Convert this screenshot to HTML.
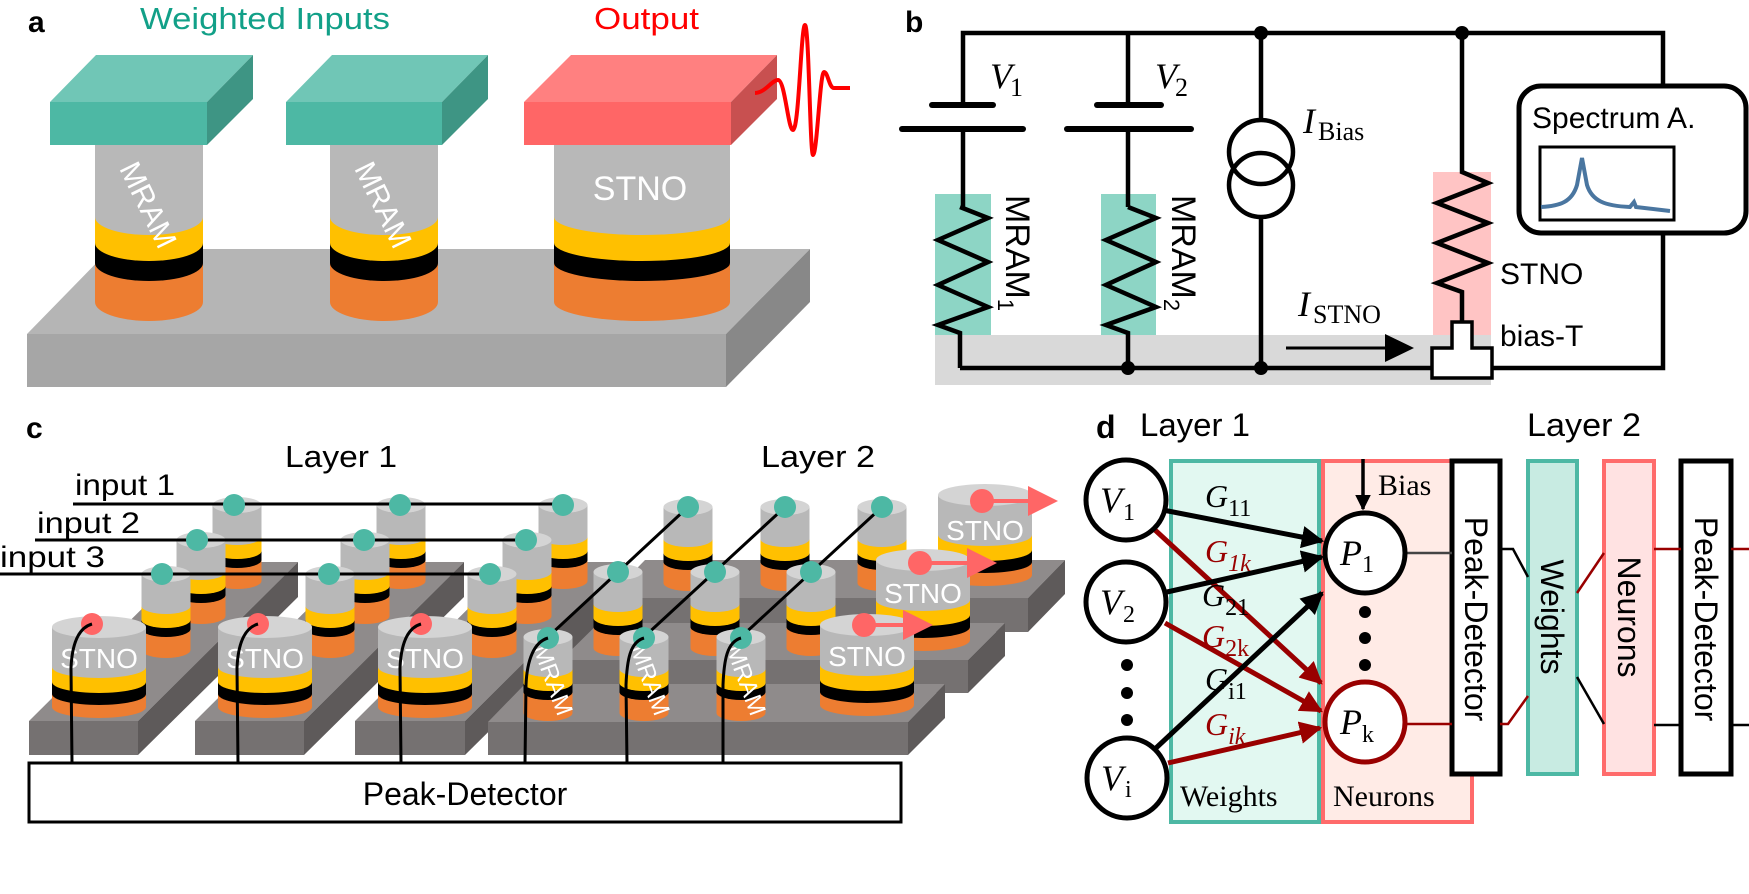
<!DOCTYPE html>
<html><head><meta charset="utf-8"><style>
html,body{margin:0;padding:0;background:#fff}
svg{display:block}
.s{font-family:"Liberation Sans",sans-serif}
.m{font-family:"Liberation Serif",serif}
</style></head><body>
<svg width="1749" height="894" viewBox="0 0 1749 894" xmlns="http://www.w3.org/2000/svg">
<defs>
<g id="mc">
<path d="M-24.5,0 V76 A24.5,8 0 0 0 24.5,76 V0 Z" fill="#ed7d31"/>
<path d="M-24.5,0 V55 A24.5,8 0 0 0 24.5,55 V0 Z" fill="#000"/>
<path d="M-24.5,0 V46 A24.5,8 0 0 0 24.5,46 V0 Z" fill="#ffc000"/>
<path d="M-24.5,0 V32 A24.5,8 0 0 0 24.5,32 V0 Z" fill="#b8b8b8"/>
<ellipse cx="0" cy="0" rx="24.5" ry="8" fill="#d4d4d4"/>
</g>
<g id="sc">
<path d="M-47,0 V80 A47,11 0 0 0 47,80 V0 Z" fill="#ed7d31"/>
<path d="M-47,0 V67 A47,11 0 0 0 47,67 V0 Z" fill="#000"/>
<path d="M-47,0 V55 A47,11 0 0 0 47,55 V0 Z" fill="#ffc000"/>
<path d="M-47,0 V40 A47,11 0 0 0 47,40 V0 Z" fill="#b8b8b8"/>
<ellipse cx="0" cy="0" rx="47" ry="11" fill="#d4d4d4"/>
</g>
<marker id="ab" viewBox="0 0 10 10" refX="9" refY="5" markerWidth="4.5" markerHeight="4.5" orient="auto" markerUnits="strokeWidth"><path d="M0,0 L10,5 L0,10 Z" fill="#000"/></marker>
<marker id="ar" viewBox="0 0 10 10" refX="9" refY="5" markerWidth="4.5" markerHeight="4.5" orient="auto" markerUnits="strokeWidth"><path d="M0,0 L10,5 L0,10 Z" fill="#990000"/></marker>
</defs>

<!-- ================= Panel a ================= -->
<text x="28" y="32" class="s" font-size="30" font-weight="bold">a</text>
<text x="140" y="29" class="s" font-size="31" fill="#12a088" textLength="250" lengthAdjust="spacingAndGlyphs">Weighted Inputs</text>
<text x="594" y="29" class="s" font-size="31" fill="#ff0000" textLength="105" lengthAdjust="spacingAndGlyphs">Output</text>
<polygon points="27,334 110,249 810,249 726,334" fill="#b5b5b5"/>
<rect x="27" y="334" width="699" height="53" fill="#a6a6a6"/>
<polygon points="726,334 810,249 810,302 726,387" fill="#888"/>
<g>
<path d="M95,145 V302 A54,19 0 0 0 203,302 V145 Z" fill="#ed7d31"/>
<path d="M95,145 V263 A54,18 0 0 0 203,263 V145 Z" fill="#000"/>
<path d="M95,145 V243 A54,18 0 0 0 203,243 V145 Z" fill="#ffc000"/>
<path d="M95,145 V217 A54,18 0 0 0 203,217 V145 Z" fill="#b8b8b8"/>
<path d="M330,145 V302 A54,19 0 0 0 438,302 V145 Z" fill="#ed7d31"/>
<path d="M330,145 V263 A54,18 0 0 0 438,263 V145 Z" fill="#000"/>
<path d="M330,145 V243 A54,18 0 0 0 438,243 V145 Z" fill="#ffc000"/>
<path d="M330,145 V217 A54,18 0 0 0 438,217 V145 Z" fill="#b8b8b8"/>
<path d="M554,145 V302 A88,19 0 0 0 730,302 V145 Z" fill="#ed7d31"/>
<path d="M554,145 V263 A88,18 0 0 0 730,263 V145 Z" fill="#000"/>
<path d="M554,145 V243 A88,18 0 0 0 730,243 V145 Z" fill="#ffc000"/>
<path d="M554,145 V217 A88,18 0 0 0 730,217 V145 Z" fill="#b8b8b8"/>
</g>
<text transform="translate(148,205) rotate(64)" class="s" font-size="30" fill="#fff" text-anchor="middle" dy="10">MRAM</text>
<text transform="translate(383,205) rotate(64)" class="s" font-size="30" fill="#fff" text-anchor="middle" dy="10">MRAM</text>
<text x="640" y="200" class="s" font-size="34" fill="#fff" text-anchor="middle">STNO</text>
<polygon points="50,102 96,55 253,55 207,102" fill="#70c6b6"/>
<rect x="50" y="102" width="157" height="43" fill="#4db8a4"/>
<polygon points="207,102 253,55 253,99 207,145" fill="#3e9584"/>
<polygon points="286,102 332,55 488,55 442,102" fill="#70c6b6"/>
<rect x="286" y="102" width="156" height="43" fill="#4db8a4"/>
<polygon points="442,102 488,55 488,99 442,145" fill="#3e9584"/>
<polygon points="524,102 571,55 777,55 731,102" fill="#ff8080"/>
<rect x="524" y="102" width="207" height="43" fill="#ff6666"/>
<polygon points="731,102 777,55 777,99 731,145" fill="#c85050"/>
<path d="M755,93 C765,93 772,80 778,80 C785,80 788,130 793,130 C799,130 801,25 805,25 C809,25 810,155 813,155 C817,155 820,72 824,72 C828,72 829,88 834,88 L850,88" fill="none" stroke="#ff0000" stroke-width="4"/>

<!-- ================= Panel b ================= -->
<text x="905" y="32" class="s" font-size="30" font-weight="bold">b</text>
<rect x="935" y="335" width="556" height="50" fill="#d9d9d9"/>
<rect x="935" y="194" width="56" height="141" fill="#8dd5c5"/>
<rect x="1101" y="194" width="55" height="141" fill="#8dd5c5"/>
<rect x="1433" y="172" width="58" height="163" fill="#ffc4c4"/>
<g fill="none" stroke="#000" stroke-width="4.5" stroke-linejoin="miter">
<polyline points="963,105 963,33 1663,33 1663,368 960,368"/>
<polyline points="963,129 963,207"/>
<polyline points="960,207 988,218 938,240 988,262 938,285 988,307 938,325 960,333 960,368"/>
<polyline points="1128,33 1128,105"/>
<polyline points="1128,129 1128,207"/>
<polyline points="1128,207 1156,218 1106,240 1156,262 1106,285 1156,307 1106,325 1128,333 1128,368"/>
<line x1="1261" y1="33" x2="1261" y2="120"/>
<line x1="1261" y1="217" x2="1261" y2="368"/>
<circle cx="1261" cy="152" r="32"/>
<circle cx="1261" cy="185" r="32"/>
<polyline points="1462,33 1462,172 1488,183 1437,203 1488,223 1437,243 1488,263 1437,283 1462,292 1462,322"/>
</g>
<g stroke="#000" stroke-width="6" stroke-linecap="round">
<line x1="932" y1="105" x2="993" y2="105"/><line x1="902" y1="129" x2="1023" y2="129"/>
<line x1="1097" y1="105" x2="1161" y2="105"/><line x1="1067" y1="129" x2="1191" y2="129"/>
</g>
<circle cx="1261" cy="33" r="7"/><circle cx="1462" cy="33" r="7"/>
<circle cx="1128" cy="368" r="7"/><circle cx="1261" cy="368" r="7"/>
<text x="990" y="88" class="m" font-size="36" font-style="italic">V</text><text x="1010" y="96" class="m" font-size="26">1</text>
<text x="1155" y="88" class="m" font-size="36" font-style="italic">V</text><text x="1175" y="96" class="m" font-size="26">2</text>
<text x="1303" y="133" class="m" font-size="36" font-style="italic">I</text><text x="1318" y="140" class="m" font-size="26">Bias</text>
<text x="1298" y="316" class="m" font-size="36" font-style="italic">I</text><text x="1313" y="323" class="m" font-size="26">STNO</text>
<text transform="translate(1006,195) rotate(90)" class="s" font-size="34">MRAM<tspan font-size="22" dy="8">1</tspan></text>
<text transform="translate(1172,195) rotate(90)" class="s" font-size="34">MRAM<tspan font-size="22" dy="8">2</tspan></text>
<line x1="1286" y1="348" x2="1390" y2="348" stroke="#000" stroke-width="3"/>
<polygon points="1385,334 1414,348 1385,362" fill="#000"/>
<polygon points="1452,322 1472,322 1472,348 1492,348 1492,378 1432,378 1432,348 1452,348" fill="#fff" stroke="#000" stroke-width="3.5"/>
<text x="1500" y="284" class="s" font-size="30">STNO</text>
<text x="1500" y="346" class="s" font-size="30">bias-T</text>
<rect x="1519" y="86" width="227" height="147" rx="22" fill="#fff" stroke="#000" stroke-width="5"/>
<text x="1532" y="128" class="s" font-size="30">Spectrum A.</text>
<rect x="1540" y="147" width="134" height="73" fill="#fff" stroke="#000" stroke-width="3"/>
<path d="M1541,207 C1560,206 1572,202 1577,185 L1582,158 L1587,185 C1592,201 1605,206 1630,207 L1634,202 L1636,207 L1670,211" fill="none" stroke="#4a76a0" stroke-width="4"/>

<!-- ================= Panel c ================= -->
<text x="26" y="438" class="s" font-size="30" font-weight="bold">c</text>
<text x="285" y="467" class="s" font-size="31" textLength="112" lengthAdjust="spacingAndGlyphs">Layer 1</text>
<text x="761" y="467" class="s" font-size="31" textLength="114" lengthAdjust="spacingAndGlyphs">Layer 2</text>
<text x="75" y="495" class="s" font-size="30" textLength="100" lengthAdjust="spacingAndGlyphs">input 1</text>
<text x="37" y="533" class="s" font-size="30" textLength="103" lengthAdjust="spacingAndGlyphs">input 2</text>
<text x="0" y="567" class="s" font-size="30" textLength="105" lengthAdjust="spacingAndGlyphs">input 3</text>
<polygon points="608,598 645,560 1065,560 1028,598" fill="#8f8b8b"/>
<rect x="608" y="598" width="420" height="34" fill="#757171"/>
<polygon points="1028,598 1065,560 1065,594 1028,632" fill="#5e5a5a"/>
<polygon points="548,660 585,623 1005,623 968,660" fill="#8f8b8b"/>
<rect x="548" y="660" width="420" height="33" fill="#757171"/>
<polygon points="968,660 1005,623 1005,656 968,693" fill="#5e5a5a"/>
<g>
<polygon points="29,721 138,721 298,562 189,562" fill="#8f8b8b"/>
<rect x="29" y="721" width="109" height="34" fill="#757171"/>
<polygon points="138,721 298,562 298,597 138,755" fill="#5e5a5a"/>
<use href="#mc" x="237" y="505"/><use href="#mc" x="201" y="540"/><use href="#mc" x="166" y="574"/>
<use href="#sc" x="99" y="627"/>
<polygon points="195,721 304,721 464,562 355,562" fill="#8f8b8b"/>
<rect x="195" y="721" width="109" height="34" fill="#757171"/>
<polygon points="304,721 464,562 464,597 304,755" fill="#5e5a5a"/>
<use href="#mc" x="401" y="505"/><use href="#mc" x="365" y="540"/><use href="#mc" x="330" y="574"/>
<use href="#sc" x="265" y="627"/>
<polygon points="355,721 465,721 625,562 515,562" fill="#8f8b8b"/>
<rect x="355" y="721" width="110" height="34" fill="#757171"/>
<polygon points="465,721 625,562 625,597 465,755" fill="#5e5a5a"/>
<use href="#mc" x="563" y="505"/><use href="#mc" x="527" y="540"/><use href="#mc" x="492" y="574"/>
<use href="#sc" x="425" y="627"/>
</g>
<g stroke="#000" stroke-width="3">
<line x1="73" y1="504" x2="563" y2="504"/>
<line x1="35" y1="540" x2="527" y2="540"/>
<line x1="0" y1="574" x2="492" y2="574"/>
</g>
<g fill="#4db8a4">
<circle cx="234" cy="505" r="11"/><circle cx="197" cy="540" r="11"/><circle cx="162" cy="574" r="11"/>
<circle cx="400" cy="505" r="11"/><circle cx="364" cy="540" r="11"/><circle cx="329" cy="574" r="11"/>
<circle cx="563" cy="505" r="11"/><circle cx="526" cy="540" r="11"/><circle cx="490" cy="574" r="11"/>
</g>
<g class="s" font-size="28" fill="#fff" text-anchor="middle">
<text x="99" y="668">STNO</text><text x="265" y="668">STNO</text><text x="425" y="668">STNO</text>
</g>
<g fill="#ff6666"><circle cx="92" cy="624" r="11"/><circle cx="258" cy="624" r="11"/><circle cx="421" cy="624" r="11"/></g>
<polygon points="488,722 525,684 945,684 908,722" fill="#8f8b8b"/>
<rect x="488" y="722" width="420" height="33" fill="#757171"/>
<polygon points="908,722 945,684 945,718 908,755" fill="#5e5a5a"/>
<use href="#mc" x="688" y="507"/><use href="#mc" x="785" y="507"/><use href="#mc" x="882" y="507"/>
<use href="#sc" x="985" y="495"/>
<use href="#mc" x="618" y="572"/><use href="#mc" x="715" y="572"/><use href="#mc" x="811" y="572"/>
<use href="#sc" x="923" y="560"/>
<use href="#mc" x="548" y="637"/><use href="#mc" x="644" y="637"/><use href="#mc" x="741" y="637"/>
<use href="#sc" x="867" y="625"/>
<g class="s" font-size="28" fill="#fff" text-anchor="middle">
<text x="985" y="540">STNO</text><text x="923" y="603">STNO</text><text x="867" y="666">STNO</text>
</g>
<g class="s" font-size="24" fill="#fff" text-anchor="middle">
<text transform="translate(553,680) rotate(70)" dy="8">MRAM</text>
<text transform="translate(650,680) rotate(70)" dy="8">MRAM</text>
<text transform="translate(746,680) rotate(70)" dy="8">MRAM</text>
</g>
<g stroke="#000" stroke-width="3">
<line x1="688" y1="507" x2="548" y2="637"/>
<line x1="785" y1="507" x2="644" y2="637"/>
<line x1="882" y1="507" x2="741" y2="637"/>
</g>
<g fill="#4db8a4">
<circle cx="688" cy="507" r="11"/><circle cx="785" cy="507" r="11"/><circle cx="882" cy="507" r="11"/>
<circle cx="618" cy="572" r="11"/><circle cx="715" cy="572" r="11"/><circle cx="811" cy="572" r="11"/>
<circle cx="548" cy="638" r="11"/><circle cx="644" cy="638" r="11"/><circle cx="741" cy="638" r="11"/>
</g>
<g fill="#ff6666" stroke="#ff6666">
<circle cx="982" cy="501" r="12" stroke="none"/><line x1="982" y1="501" x2="1030" y2="501" stroke-width="4"/><polygon points="1028,486 1058,501 1028,516" stroke="none"/>
<circle cx="920" cy="563" r="12" stroke="none"/><line x1="920" y1="563" x2="970" y2="563" stroke-width="4"/><polygon points="967,548 997,563 967,578" stroke="none"/>
<circle cx="864" cy="625" r="12" stroke="none"/><line x1="864" y1="625" x2="905" y2="625" stroke-width="4"/><polygon points="903,610 933,625 903,640" stroke="none"/>
</g>
<g fill="none" stroke="#000" stroke-width="3">
<path d="M92,624 C78,628 72,645 71,668 L72,763"/>
<path d="M258,624 C244,628 238,645 237,668 L238,763"/>
<path d="M421,624 C407,628 401,645 400,668 L401,763"/>
<path d="M548,638 C534,642 527,660 526,685 L525,763"/>
<path d="M644,638 C630,642 627,660 626,685 L627,763"/>
<path d="M741,638 C727,642 724,660 723,685 L723,763"/>
</g>
<rect x="29" y="763" width="872" height="59" fill="#fff" stroke="#000" stroke-width="3"/>
<text x="465" y="805" class="s" font-size="32" text-anchor="middle">Peak-Detector</text>

<!-- ================= Panel d ================= -->
<text x="1096" y="438" class="s" font-size="32" font-weight="bold">d</text>
<text x="1140" y="436" class="s" font-size="32" textLength="110" lengthAdjust="spacingAndGlyphs">Layer 1</text>
<text x="1527" y="436" class="s" font-size="32" textLength="114" lengthAdjust="spacingAndGlyphs">Layer 2</text>
<rect x="1171" y="461" width="148" height="361" fill="#e2f8f1" stroke="#4db8a4" stroke-width="4"/>
<rect x="1323" y="461" width="149" height="361" fill="#ffebe6" stroke="#ff6b6b" stroke-width="4"/>
<text x="1180" y="806" class="m" font-size="30">Weights</text>
<text x="1333" y="806" class="m" font-size="30">Neurons</text>
<rect x="1452" y="461" width="48" height="313" fill="#fff" stroke="#000" stroke-width="5"/>
<rect x="1528" y="461" width="49" height="313" fill="#c8ebe2" stroke="#4db8a4" stroke-width="4"/>
<rect x="1604" y="461" width="50" height="313" fill="#ffe2e2" stroke="#ff6b6b" stroke-width="4"/>
<rect x="1681" y="461" width="50" height="313" fill="#fff" stroke="#000" stroke-width="5"/>
<g class="s" font-size="32" text-anchor="middle">
<text transform="translate(1476,619) rotate(90)" dy="11">Peak-Detector</text>
<text transform="translate(1552,617) rotate(90)" dy="11">Weights</text>
<text transform="translate(1629,617) rotate(90)" dy="11">Neurons</text>
<text transform="translate(1706,619) rotate(90)" dy="11">Peak-Detector</text>
</g>
<g fill="none" stroke-width="2.5">
<line x1="1405" y1="553" x2="1452" y2="553" stroke="#444"/>
<line x1="1405" y1="724" x2="1452" y2="724" stroke="#990000"/>
<polyline points="1500,549 1513,549 1528,577" stroke="#000"/>
<polyline points="1500,724 1508,724 1528,696" stroke="#990000"/>
<line x1="1577" y1="593" x2="1604" y2="553" stroke="#990000"/>
<line x1="1577" y1="677" x2="1604" y2="724" stroke="#000"/>
<line x1="1654" y1="549" x2="1681" y2="549" stroke="#990000"/>
<line x1="1654" y1="725" x2="1681" y2="725" stroke="#000"/>
<line x1="1731" y1="549" x2="1749" y2="549" stroke="#990000"/>
<line x1="1731" y1="725" x2="1749" y2="725" stroke="#000"/>
</g>
<g stroke-width="5" fill="none">
<line x1="1155" y1="530" x2="1321" y2="683" stroke="#990000" marker-end="url(#ar)"/>
<line x1="1165" y1="623" x2="1321" y2="711" stroke="#990000" marker-end="url(#ar)"/>
<line x1="1168" y1="763" x2="1320" y2="728" stroke="#990000" marker-end="url(#ar)"/>
<line x1="1163" y1="510" x2="1322" y2="541" stroke="#000" marker-end="url(#ab)"/>
<line x1="1167" y1="592" x2="1322" y2="557" stroke="#000" marker-end="url(#ab)"/>
<line x1="1156" y1="748" x2="1322" y2="593" stroke="#000" marker-end="url(#ab)"/>
<line x1="1363" y1="459" x2="1363" y2="509" stroke="#000" stroke-width="3.5" marker-end="url(#ab)"/>
</g>
<text x="1378" y="495" class="m" font-size="30">Bias</text>
<g fill="#fff" stroke="#000" stroke-width="5">
<circle cx="1126" cy="500" r="40"/><circle cx="1126" cy="602" r="40"/><circle cx="1127" cy="778" r="40"/>
<circle cx="1365" cy="553" r="40"/>
<circle cx="1365" cy="722" r="40" stroke="#990000"/>
</g>
<g fill="#000">
<circle cx="1127" cy="665" r="6"/><circle cx="1127" cy="693" r="6"/><circle cx="1127" cy="720" r="6"/>
<circle cx="1365" cy="612" r="6"/><circle cx="1365" cy="638" r="6"/><circle cx="1365" cy="665" r="6"/>
</g>
<g class="m" font-size="36" font-style="italic">
<text x="1100" y="512">V</text><text x="1100" y="614">V</text><text x="1101" y="790">V</text>
<text x="1340" y="565">P</text><text x="1340" y="734">P</text>
</g>
<g class="m" font-size="24">
<text x="1123" y="520">1</text><text x="1123" y="622">2</text><text x="1125" y="797">i</text>
<text x="1362" y="572">1</text><text x="1362" y="742">k</text>
</g>
<g class="m" font-size="32">
<text x="1205" y="507"><tspan font-style="italic">G</tspan><tspan font-size="24" dy="9">11</tspan></text>
<text x="1205" y="562" fill="#990000"><tspan font-style="italic">G</tspan><tspan font-size="24" dy="9" font-style="italic">1k</tspan></text>
<text x="1202" y="606"><tspan font-style="italic">G</tspan><tspan font-size="24" dy="9">21</tspan></text>
<text x="1202" y="647" fill="#990000"><tspan font-style="italic">G</tspan><tspan font-size="24" dy="9">2k</tspan></text>
<text x="1205" y="690"><tspan font-style="italic">G</tspan><tspan font-size="24" dy="9">i1</tspan></text>
<text x="1205" y="735" fill="#990000"><tspan font-style="italic">G</tspan><tspan font-size="24" dy="9" font-style="italic">ik</tspan></text>
</g>
</svg>
</body></html>
